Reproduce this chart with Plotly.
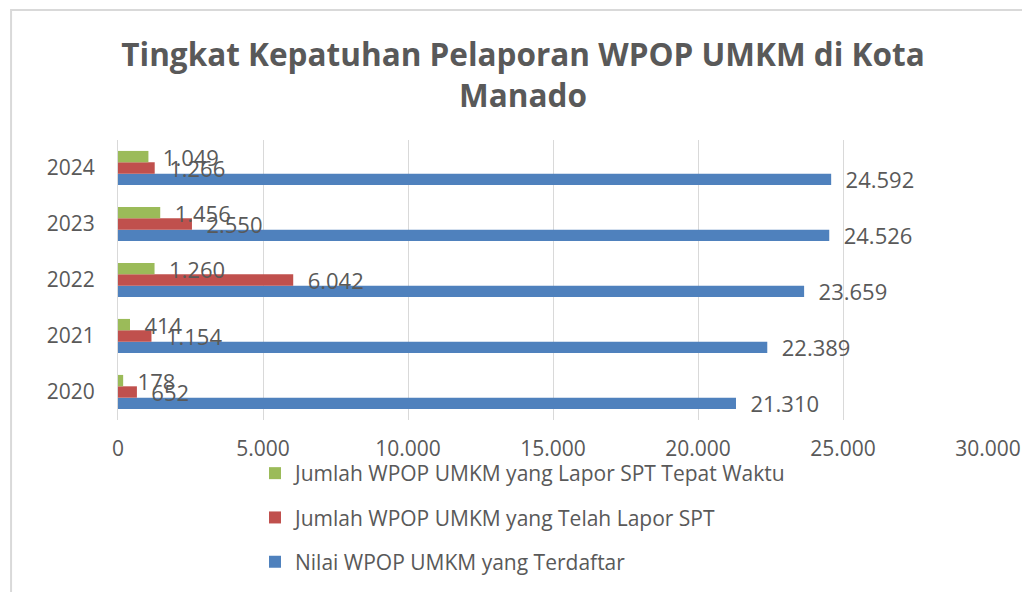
import plotly.graph_objects as go

years = ["2020", "2021", "2022", "2023", "2024"]
terdaftar = [21310, 22389, 23659, 24526, 24592]
lapor_spt = [652, 1154, 6042, 2550, 1266]
tepat_waktu = [178, 414, 1260, 1456, 1049]

names = [
    "Nilai WPOP UMKM yang Terdaftar",
    "Jumlah WPOP UMKM yang Telah Lapor SPT",
    "Jumlah WPOP UMKM yang Lapor SPT Tepat Waktu",
]
colors = ["#4F81BD", "#C0504D", "#9BBB59"]
series = [terdaftar, lapor_spt, tepat_waktu]
ranks = [3, 2, 1]

FONT = "Open Sans"
GRAY = "#595959"
W, H = 1022, 584
L, R, T, B = 109.5, 42, 132, 172


def fmt(v):
    return f"{v:,}".replace(",", ".")


fig = go.Figure()
for i, (name, vals, col) in enumerate(zip(names, series, colors)):
    fig.add_trace(go.Bar(
        y=years, x=vals, orientation="h", name=name,
        marker=dict(color=col, line=dict(width=0)),
        text=["\u00a0\u00a0" + fmt(v) for v in vals], textposition="outside",
        constraintext="none", cliponaxis=False,
        textfont=dict(family=FONT, size=22, color=GRAY),
        legendgroup=f"g{i}", legendrank=ranks[i],
    ))

xt = [0, 5000, 10000, 15000, 20000, 25000, 30000]
pw = W - L - R
ph = H - T - B

fig.update_layout(
    width=W, height=H,
    paper_bgcolor="white", plot_bgcolor="white",
    margin=dict(l=L, r=R, t=T, b=B, autoexpand=False),
    barmode="group", bargap=0.39, bargroupgap=0,
    font=dict(family=FONT, color=GRAY),
    title=dict(
        text="Tingkat Kepatuhan Pelaporan WPOP UMKM di Kota<br>Manado",
        x=515 / W, xanchor="center", y=1 - 58 / H, yanchor="top",
        font=dict(family=FONT, size=31.5, color=GRAY, weight="bold"),
    ),
    xaxis=dict(
        range=[0, 30000], tickvals=xt, ticktext=[fmt(v) for v in xt],
        showgrid=True, gridcolor="#D9D9D9", gridwidth=1, zeroline=False,
        showline=False, ticks="", ticklabelstandoff=14,
        tickfont=dict(family=FONT, size=21, color=GRAY),
    ),
    yaxis=dict(
        showgrid=False, showline=True, linecolor="#D9D9D9", linewidth=1,
        ticks="", ticklabelstandoff=18,
        tickfont=dict(family=FONT, size=21, color=GRAY),
    ),
    legend=dict(
        xref="container", yref="container", x=247 / W, y=1 - 445 / H,
        xanchor="left", yanchor="top", orientation="v",
        traceorder="grouped", tracegroupgap=14,
        font=dict(family=FONT, size=21, color=GRAY),
        bgcolor="rgba(0,0,0,0)",
    ),
    shapes=[dict(
        type="rect", xref="paper", yref="paper",
        x0=(2.5 - L) / pw, x1=1.3, y0=-1, y1=(H - B - 2) / ph,
        line=dict(color="#D9D9D9", width=2), fillcolor="rgba(0,0,0,0)",
        layer="below",
    )],
)

fig.write_html("out.html")
